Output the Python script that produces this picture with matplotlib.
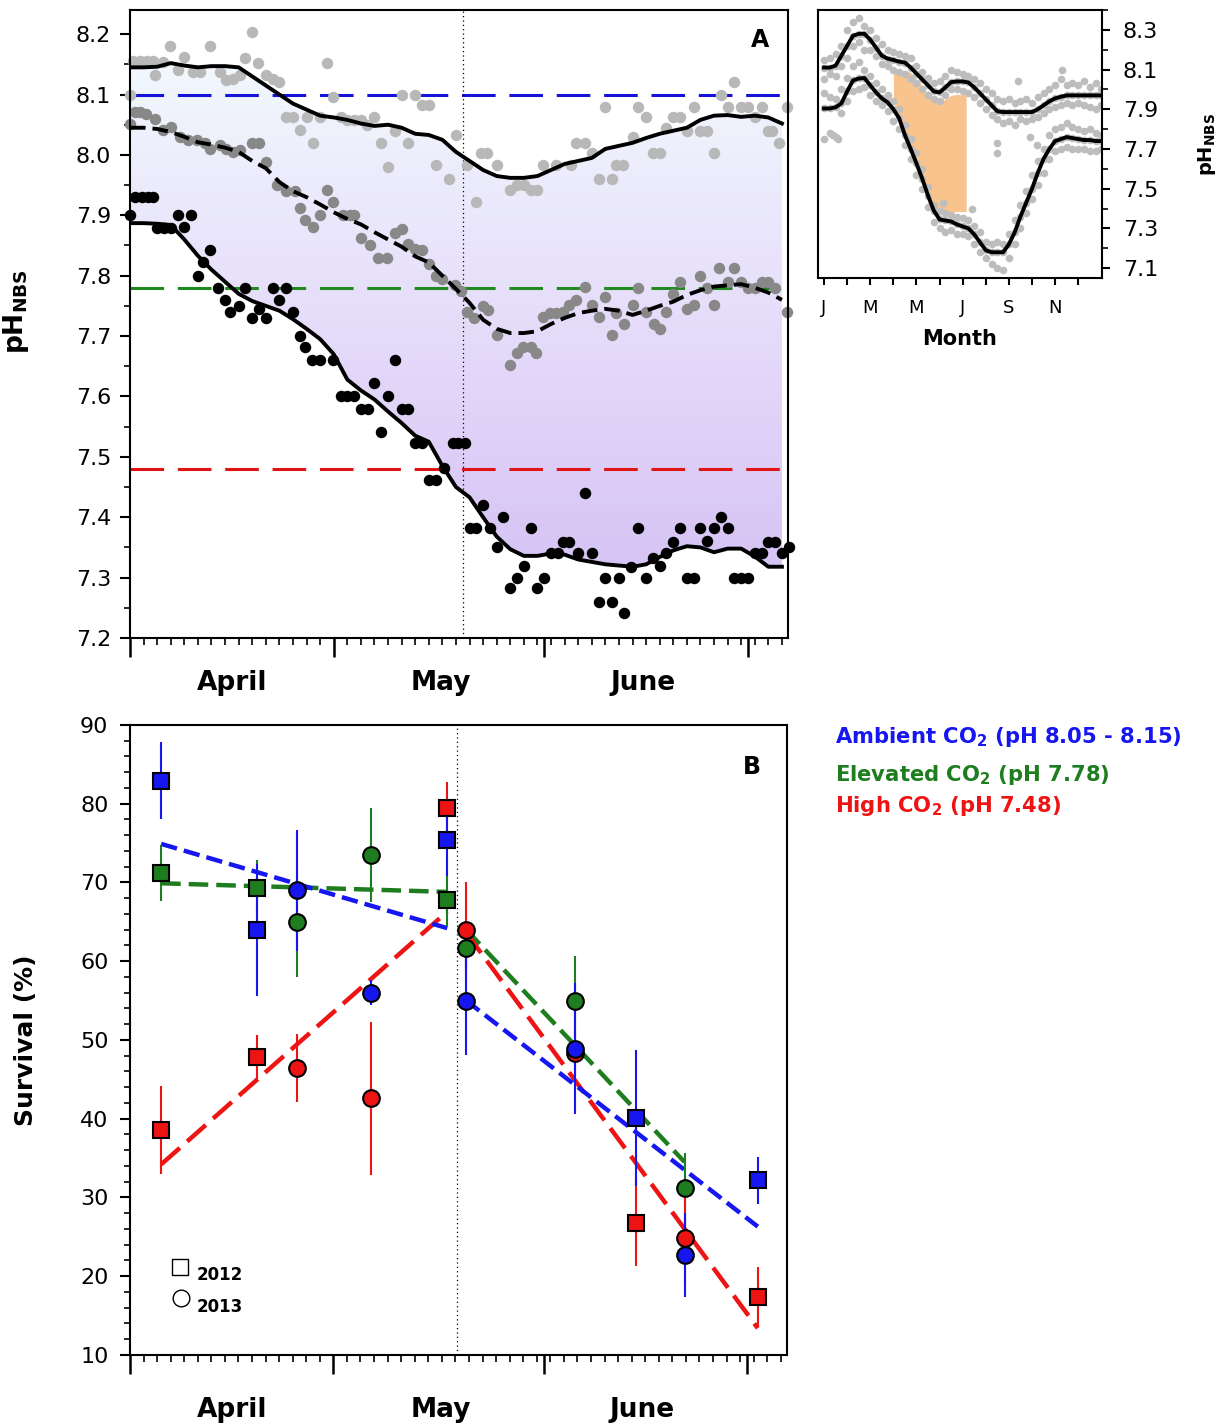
import numpy as np
import matplotlib
matplotlib.use('Agg')
import matplotlib.pyplot as plt
import matplotlib.transforms as mtransforms
from matplotlib.colors import LinearSegmentedColormap
from matplotlib.ticker import MultipleLocator, FixedLocator

plt.rcParams['font.family'] = 'DejaVu Sans'
plt.rcParams['mathtext.fontset'] = 'dejavusans'

# ---------------- panel A : daily pH (day 0 = 1 April) ----------------
line_day = np.arange(0, 97, 2)
amb_line = [8.145, 8.145, 8.146, 8.152, 8.148, 8.145, 8.147, 8.147, 8.145, 8.13,
            8.115, 8.10, 8.085, 8.075, 8.065, 8.062, 8.058, 8.052, 8.048, 8.05,
            8.045, 8.035, 8.033, 8.025, 8.005, 7.99, 7.975, 7.965, 7.962, 7.962,
            7.965, 7.975, 7.985, 7.99, 7.995, 8.01, 8.015, 8.02, 8.028, 8.035,
            8.04, 8.045, 8.058, 8.065, 8.066, 8.063, 8.065, 8.062, 8.052]
elev_line = [8.045, 8.045, 8.043, 8.038, 8.03, 8.021, 8.017, 8.012, 8.005, 7.99,
             7.978, 7.955, 7.94, 7.93, 7.918, 7.905, 7.894, 7.885, 7.872, 7.86,
             7.848, 7.832, 7.822, 7.80, 7.778, 7.755, 7.727, 7.712, 7.705, 7.705,
             7.708, 7.72, 7.73, 7.738, 7.742, 7.745, 7.742, 7.735, 7.742, 7.75,
             7.757, 7.768, 7.776, 7.782, 7.784, 7.786, 7.78, 7.772, 7.76]
high_line = [7.887, 7.887, 7.886, 7.884, 7.86, 7.833, 7.81, 7.79, 7.77, 7.758,
             7.75, 7.742, 7.728, 7.712, 7.695, 7.67, 7.628, 7.61, 7.595, 7.575,
             7.556, 7.535, 7.525, 7.485, 7.45, 7.433, 7.40, 7.368, 7.347, 7.336,
             7.336, 7.34, 7.338, 7.33, 7.326, 7.322, 7.32, 7.318, 7.322, 7.334,
             7.345, 7.352, 7.35, 7.342, 7.348, 7.348, 7.335, 7.318, 7.318]

amb_pt_day = [0, 0.5, 1.5, 2.5, 3.4, 3.7, 4.9, 5.9, 7.1, 7.9, 9.3, 10.3, 11.8, 13.2, 14.2,
              15.2, 16.2, 16.9, 17.9, 18.9, 20.1, 21, 22, 23, 24, 25, 26, 27, 28, 29,
              29.9, 31, 32, 33, 34, 34.9, 36, 37, 38, 39, 40, 41, 42, 43, 44,
              45, 47, 48, 49.7, 51, 51.7, 52.6, 54, 56, 57, 58, 59, 60, 60.8, 62.8,
              65, 65.7, 67, 68, 69, 70, 71, 71.6, 72.6, 74, 74.8, 76, 77, 78, 79,
              80, 81, 82, 83, 84, 85, 86, 87, 88, 89, 90, 91, 92, 93, 94,
              94.6, 95.6, 96.8]
amb_pt = [8.10, 8.155, 8.155, 8.155, 8.155, 8.132, 8.154, 8.18, 8.14, 8.162, 8.137, 8.137, 8.18, 8.137, 8.124,
          8.126, 8.132, 8.16, 8.203, 8.152, 8.132, 8.126, 8.12, 8.063, 8.063, 8.041, 8.063, 8.02, 8.062, 8.152,
          8.096, 8.062, 8.058, 8.058, 8.058, 8.05, 8.062, 8.02, 7.98, 8.04, 8.10, 8.02, 8.10, 8.082, 8.082,
          7.983, 7.96, 8.033, 7.983, 7.922, 8.003, 8.003, 7.983, 7.942, 7.95, 7.95, 7.942, 7.942, 7.983, 7.983,
          7.983, 8.02, 8.02, 8.003, 7.96, 8.08, 7.96, 7.983, 7.983, 8.03, 8.08, 8.063, 8.003, 8.003, 8.045,
          8.063, 8.063, 8.04, 8.08, 8.04, 8.04, 8.003, 8.10, 8.08, 8.12, 8.08, 8.08, 8.062, 8.08, 8.04,
          8.04, 8.02, 8.08]

elev_pt_day = [0, 0.7, 1.5, 2.4, 3.7, 4.9, 6.1, 7.3, 8.6, 9.8, 11, 11.8, 13.2, 14.2, 15.2,
               16.2, 17.9, 19, 20.1, 21.6, 23, 24.3, 25, 25.7, 27, 28, 29, 29.9, 31.3, 32.4,
               33, 34, 35.3, 36.5, 37.8, 39, 40, 41, 42, 43, 44, 45, 46, 47.8, 48.8,
               49.7, 50.7, 52, 52.7, 54, 56, 57, 57.8, 59, 59.8, 60.8, 61.8, 62.8, 63.7, 64.7,
               65.7, 67, 68, 69, 70, 71, 71.6, 72.8, 74, 74.8, 76, 77.2, 78, 79, 80,
               81, 82, 83, 84, 85, 86, 86.8, 88, 89, 90, 91, 92, 93, 94, 95, 96.8]
elev_pt = [8.052, 8.071, 8.071, 8.068, 8.06, 8.041, 8.047, 8.03, 8.025, 8.025, 8.02, 8.01, 8.016, 8.01, 8.005,
           8.008, 8.02, 8.02, 7.988, 7.95, 7.94, 7.94, 7.912, 7.892, 7.88, 7.90, 7.942, 7.922, 7.90, 7.90,
           7.90, 7.862, 7.85, 7.83, 7.83, 7.87, 7.878, 7.852, 7.845, 7.842, 7.82, 7.80, 7.795, 7.785, 7.775,
           7.74, 7.73, 7.75, 7.743, 7.702, 7.652, 7.672, 7.682, 7.682, 7.672, 7.732, 7.738, 7.738, 7.74, 7.752,
           7.76, 7.782, 7.752, 7.732, 7.765, 7.702, 7.738, 7.72, 7.752, 7.78, 7.74, 7.72, 7.712, 7.74, 7.77,
           7.79, 7.745, 7.752, 7.80, 7.78, 7.752, 7.812, 7.79, 7.812, 7.79, 7.78, 7.78, 7.79, 7.79, 7.78, 7.74]

high_pt_day = [0, 0.7, 1.7, 2.6, 3.4, 4, 5, 6, 7, 8, 9, 10, 10.8, 11.8, 13,
               14, 14.7, 16, 17, 18, 19, 20, 21, 22, 23, 24, 25, 25.7, 26.8, 28,
               29.9, 31, 32, 33, 34, 35, 36, 37, 38, 39, 40, 41, 42, 43, 44,
               45, 46.3, 47.5, 48.3, 49.3, 50, 51, 52, 53, 54, 55, 56, 57, 58, 59,
               60, 61, 62, 63, 63.7, 64.7, 66, 67, 68, 69, 70, 71, 72, 72.8, 73.8,
               74.8, 76, 77, 78, 79, 80, 81, 82, 83, 84, 85, 86, 87, 88, 89,
               90, 91, 92, 93, 94, 95, 96, 97]
high_pt = [7.90, 7.93, 7.93, 7.93, 7.93, 7.879, 7.879, 7.879, 7.90, 7.88, 7.90, 7.80, 7.823, 7.842, 7.78,
           7.76, 7.74, 7.75, 7.78, 7.73, 7.745, 7.73, 7.78, 7.76, 7.78, 7.74, 7.70, 7.682, 7.66, 7.66,
           7.66, 7.60, 7.60, 7.60, 7.58, 7.58, 7.622, 7.541, 7.60, 7.66, 7.58, 7.58, 7.523, 7.523, 7.462,
           7.462, 7.482, 7.523, 7.523, 7.523, 7.382, 7.382, 7.42, 7.382, 7.35, 7.40, 7.283, 7.30, 7.32, 7.382,
           7.283, 7.30, 7.34, 7.34, 7.359, 7.359, 7.34, 7.44, 7.34, 7.26, 7.30, 7.26, 7.30, 7.241, 7.318,
           7.382, 7.30, 7.332, 7.32, 7.34, 7.359, 7.382, 7.30, 7.30, 7.382, 7.36, 7.382, 7.40, 7.382, 7.30,
           7.30, 7.30, 7.34, 7.34, 7.359, 7.359, 7.34, 7.35]

target_ph = [8.10, 7.78, 7.48]
target_col = ['#1414d8', '#1f8a1f', '#e01414']

month_starts = [0, 30, 61, 91]
month_mids = [15, 45.8, 75.5]
month_names = ['April', 'May', 'June']

# ---------------- inset : one year of pH ----------------
inset_m = np.arange(0, 12.01, 0.25)
inset_up_line = [8.11, 8.11, 8.12, 8.17, 8.22, 8.27, 8.28, 8.28, 8.25, 8.21, 8.17, 8.155, 8.148,
                 8.14, 8.135, 8.11, 8.08, 8.05, 8.02, 7.99, 7.985, 8.01, 8.037, 8.04, 8.04,
                 8.035, 8.01, 7.98, 7.95, 7.92, 7.89, 7.886, 7.886, 7.886, 7.886, 7.886, 7.886,
                 7.90, 7.92, 7.94, 7.955, 7.963, 7.97, 7.97, 7.97, 7.97, 7.97, 7.97, 7.97]
inset_lo_line = [7.904, 7.904, 7.91, 7.93, 7.99, 8.045, 8.055, 8.057, 8.02, 7.985, 7.955, 7.935, 7.90,
                 7.855, 7.77, 7.70, 7.627, 7.55, 7.465, 7.39, 7.345, 7.34, 7.335, 7.32, 7.31,
                 7.30, 7.27, 7.23, 7.19, 7.18, 7.18, 7.18, 7.22, 7.28, 7.36, 7.43, 7.50,
                 7.58, 7.65, 7.70, 7.74, 7.75, 7.76, 7.755, 7.75, 7.745, 7.745, 7.74, 7.74]
inset_up_hi = [8.15, 8.16, 8.18, 8.22, 8.30, 8.34, 8.36, 8.32, 8.30, 8.26, 8.23, 8.20, 8.19,
               8.18, 8.17, 8.16, 8.12, 8.09, 8.06, 8.03, 8.04, 8.07, 8.10, 8.09, 8.08,
               8.07, 8.05, 8.03, 8.00, 7.98, 7.95, 7.94, 7.95, 7.93, 7.94, 7.95, 7.93,
               7.96, 7.98, 8.00, 8.02, 8.05, 8.02, 8.03, 8.02, 8.04, 8.01, 8.03, 8.00]
inset_up_lo = [8.05, 8.08, 8.07, 8.12, 8.16, 8.22, 8.24, 8.20, 8.20, 8.17, 8.13, 8.12, 8.10,
               8.09, 8.08, 8.05, 8.03, 8.00, 7.97, 7.95, 7.94, 7.97, 8.00, 8.00, 7.99,
               7.98, 7.96, 7.93, 7.90, 7.87, 7.85, 7.83, 7.84, 7.82, 7.85, 7.84, 7.85,
               7.86, 7.88, 7.90, 7.91, 7.92, 7.93, 7.92, 7.93, 7.92, 7.91, 7.90, 7.92]
inset_lo_hi = [7.98, 7.96, 7.95, 8.00, 8.06, 8.12, 8.14, 8.10, 8.07, 8.03, 8.00, 7.97, 7.94,
               7.90, 7.82, 7.75, 7.68, 7.60, 7.51, 7.42, 7.39, 7.38, 7.37, 7.36, 7.35,
               7.34, 7.31, 7.28, 7.23, 7.22, 7.23, 7.22, 7.27, 7.34, 7.42, 7.49, 7.57,
               7.64, 7.70, 7.77, 7.80, 7.81, 7.83, 7.81, 7.80, 7.79, 7.80, 7.78, 7.77]
inset_lo_lo = [7.75, 7.78, 7.76, 7.88, 7.94, 7.99, 8.00, 8.01, 7.97, 7.94, 7.92, 7.89, 7.84,
               7.80, 7.72, 7.65, 7.57, 7.50, 7.41, 7.33, 7.30, 7.28, 7.29, 7.27, 7.27,
               7.26, 7.22, 7.18, 7.15, 7.12, 7.10, 7.09, 7.15, 7.22, 7.30, 7.38, 7.45,
               7.52, 7.58, 7.65, 7.69, 7.70, 7.71, 7.70, 7.70, 7.70, 7.69, 7.69, 7.70]
inset_extra_m = [8.4, 7.5, 7.5, 8.9, 10.3, 0.4, 0.6, 5.15, 6.4, 9.2]
inset_extra_v = [8.04, 7.73, 7.68, 7.76, 8.10, 7.77, 7.75, 7.43, 7.40, 7.72]

orange_m = [3.0, 3.25, 3.5, 3.75, 4.0, 4.25, 4.5, 4.75, 5.0, 5.25, 5.5, 5.75, 6.0, 6.15]
orange_top = [8.107, 8.10, 8.095, 8.085, 8.05, 8.02, 7.975, 7.94, 7.935, 7.95, 7.97, 7.975, 7.975, 7.97]
orange_bot = [7.945, 7.86, 7.78, 7.71, 7.64, 7.56, 7.48, 7.41, 7.38, 7.38, 7.38, 7.385, 7.385, 7.385]
inset_ticks = list(range(12))
inset_labels = ['J', '', 'M', '', 'M', '', 'J', '', 'S', '', 'N', '']

# ---------------- panel B : survival ----------------
amb_day = [4.6, 18.8, 24.7, 35.6, 46.8, 49.6, 65.6, 74.7, 81.8, 92.6]
amb_surv = [82.9, 64.0, 69.0, 56.0, 75.4, 54.9, 48.9, 40.1, 22.7, 32.2]
amb_err = [4.9, 8.4, 7.7, 1.6, 4.6, 6.8, 8.3, 8.6, 5.3, 3.0]
amb_year = [2012, 2012, 2013, 2013, 2012, 2013, 2013, 2012, 2013, 2012]

elev_day = [4.6, 18.8, 24.7, 35.6, 46.8, 49.6, 65.6, 81.8]
elev_surv = [71.2, 69.3, 65.0, 73.5, 67.8, 61.7, 54.9, 31.2]
elev_err = [3.6, 3.6, 7.0, 6.0, 3.3, 2.5, 5.8, 4.4]
elev_year = [2012, 2012, 2013, 2013, 2012, 2013, 2013, 2013]

high_day = [4.6, 18.8, 24.7, 35.6, 46.8, 49.6, 65.6, 74.7, 81.8, 92.6]
high_surv = [38.6, 47.8, 46.4, 42.6, 79.4, 64.0, 48.4, 26.8, 24.9, 17.4]
high_err = [5.6, 2.8, 4.3, 9.7, 3.4, 6.0, 3.0, 5.5, 6.0, 3.8]
high_year = [2012, 2012, 2013, 2013, 2012, 2013, 2013, 2012, 2013, 2012]

fit_amb = [([4.6, 46.8], [74.9, 64.2]), ([49.6, 92.6], [55.0, 26.3])]
fit_elev = [([4.6, 46.8], [69.9, 68.8]), ([49.6, 81.8], [64.0, 34.5])]
fit_high = [([4.6, 46.8], [34.2, 66.3]), ([49.6, 92.6], [63.6, 13.4])]

legend_txt = [r'Ambient CO$_\mathbf{2}$ (pH 8.05 - 8.15)',
              r'Elevated CO$_\mathbf{2}$ (pH 7.78)',
              r'High CO$_\mathbf{2}$ (pH 7.48)']

blue, green, red = '#1616f0', '#1e7d1e', '#ee1414'


def style_month_axis(ax, label_y):
    for s in ax.spines.values():
        s.set_linewidth(1.5)
    ax.xaxis.set_major_locator(FixedLocator(month_starts))
    ax.xaxis.set_minor_locator(MultipleLocator(2))
    ax.set_xticklabels([])
    ax.tick_params(axis='both', which='both', direction='out', top=False, right=False)
    ax.tick_params(axis='x', which='major', length=14, width=1.8)
    ax.tick_params(axis='x', which='minor', length=5, width=1.2)
    ax.tick_params(axis='y', which='major', length=7.5, width=1.5, labelsize=16, pad=6)
    ax.tick_params(axis='y', which='minor', length=4.5, width=1.2)
    tr = mtransforms.blended_transform_factory(ax.transData, ax.transAxes)
    for m, name in zip(month_mids, month_names):
        ax.text(m, label_y, name, transform=tr, ha='center', va='center',
                fontsize=19, fontweight='bold')


fig = plt.figure(figsize=(12.25, 14.26), dpi=100)

# ---- A ----
axA = fig.add_axes([0.1061, 0.5526, 0.5372, 0.4404])
poly = axA.fill_between(line_day, amb_line, high_line, facecolor='none', edgecolor='none')
cmap = LinearSegmentedColormap.from_list('bg', ['#d6c3f5', '#e6ddfa', '#f2f9fe'])
grad = np.linspace(0, 1, 256).reshape(-1, 1)
im = axA.imshow(grad, extent=[0, 97, 7.31, 8.16], origin='lower', aspect='auto',
                cmap=cmap, zorder=0)
im.set_clip_path(poly.get_paths()[0], transform=axA.transData)

for v, c in zip(target_ph, target_col):
    axA.axhline(v, color=c, lw=2.2, dashes=(11, 4.5), zorder=1)

axA.scatter(amb_pt_day, amb_pt, s=68, color='#b8b8b8', lw=0, zorder=2, clip_on=False)
axA.scatter(elev_pt_day, elev_pt, s=68, color='#888888', lw=0, zorder=2, clip_on=False)
axA.scatter(high_pt_day, high_pt, s=68, color='black', lw=0, zorder=2, clip_on=False)
axA.plot(line_day, amb_line, color='black', lw=2.8, zorder=3)
axA.plot(line_day, elev_line, color='black', lw=2.8, dashes=(4, 1.8), zorder=3)
axA.plot(line_day, high_line, color='black', lw=2.8, zorder=3)
axA.axvline(49.0, color='black', lw=0.9, ls=(0, (1, 2.5)), zorder=1)

axA.set_xlim(0, 96.9)
axA.set_ylim(7.2, 8.24)
axA.yaxis.set_major_locator(MultipleLocator(0.1))
axA.yaxis.set_minor_locator(MultipleLocator(0.05))
axA.yaxis.set_major_formatter(matplotlib.ticker.FormatStrFormatter('%.1f'))
style_month_axis(axA, -0.072)
axA.set_ylabel(r'pH$_\mathbf{NBS}$', fontsize=19, fontweight='bold')
axA.yaxis.set_label_coords(-0.150, 0.52)
axA.text(0.957, 0.952, 'A', transform=axA.transAxes, ha='center', va='center',
         fontsize=17, fontweight='bold')

# ---- inset ----
axI = fig.add_axes([0.6678, 0.805, 0.2318, 0.188])
axI.fill_between(orange_m, orange_top, orange_bot, color='#f8c38c', lw=0, zorder=1)
for rows in (inset_up_hi, inset_up_lo, inset_lo_hi, inset_lo_lo, inset_up_line, inset_lo_line):
    axI.scatter(inset_m, rows, s=30, color='#bdbdbd', lw=0, zorder=2)
axI.scatter(inset_extra_m, inset_extra_v, s=30, color='#bdbdbd', lw=0, zorder=2)
axI.plot(inset_m, inset_up_line, color='black', lw=2.8, zorder=3)
axI.plot(inset_m, inset_lo_line, color='black', lw=2.8, zorder=3)
axI.set_xlim(-0.26, 12.03)
axI.set_ylim(7.05, 8.40)
axI.set_xticks(inset_ticks)
axI.set_xticklabels(inset_labels, fontsize=13)
axI.yaxis.tick_right()
axI.yaxis.set_label_position('right')
axI.set_yticks([7.1, 7.3, 7.5, 7.7, 7.9, 8.1, 8.3])
axI.yaxis.set_minor_locator(MultipleLocator(0.1))
axI.tick_params(axis='y', which='major', length=6, width=1.5, labelsize=16, pad=9)
axI.tick_params(axis='y', which='minor', length=4, width=1.2)
axI.tick_params(axis='x', which='major', length=5, width=1.5, pad=10)
for s in axI.spines.values():
    s.set_linewidth(1.5)
axI.set_ylabel(r'pH$_\mathbf{NBS}$', fontsize=14, fontweight='bold')
axI.yaxis.set_label_coords(1.33, 0.5)
axI.set_xlabel('Month', fontsize=15, fontweight='bold')
axI.xaxis.set_label_coords(0.5, -0.19)

# ---- B ----
axB = fig.add_axes([0.1061, 0.0498, 0.5363, 0.4418])
groups = [(elev_day, elev_surv, elev_err, elev_year, green, fit_elev, (4.4, 1.8)),
          (high_day, high_surv, high_err, high_year, red, fit_high, (5.6, 2.2)),
          (amb_day, amb_surv, amb_err, amb_year, blue, fit_amb, (3.7, 1.6))]
for days, surv, err, year, col, fits, dsh in groups:
    for fx, fy in fits:
        axB.plot(fx, fy, color=col, lw=3.2, dashes=dsh, zorder=2)
for days, surv, err, year, col, fits, dsh in groups:
    axB.errorbar(days, surv, yerr=err, fmt='none', ecolor=col, elinewidth=1.5,
                 capsize=0, zorder=3)
    days = np.array(days)
    surv = np.array(surv)
    yr = np.array(year)
    axB.plot(days[yr == 2012], surv[yr == 2012], 's', ms=11, mfc=col, mec='black',
             mew=1.5, ls='none', zorder=4)
    axB.plot(days[yr == 2013], surv[yr == 2013], 'o', ms=12, mfc=col, mec='black',
             mew=1.5, ls='none', zorder=4)
axB.axvline(48.3, color='black', lw=0.9, ls=(0, (1, 2.5)), zorder=1)

axB.set_xlim(0, 96.9)
axB.set_ylim(10, 90)
axB.yaxis.set_major_locator(MultipleLocator(10))
axB.yaxis.set_minor_locator(MultipleLocator(2))
style_month_axis(axB, -0.087)
axB.tick_params(axis='y', which='major', pad=8)
axB.set_ylabel('Survival (%)', fontsize=18, fontweight='bold')
axB.yaxis.set_label_coords(-0.140, 0.5)
axB.text(0.946, 0.933, 'B', transform=axB.transAxes, ha='center', va='center',
         fontsize=17, fontweight='bold')

axB.plot([0.076], [0.14], 's', ms=11.5, mfc='white', mec='black', mew=1.0,
         transform=axB.transAxes, clip_on=False)
axB.plot([0.078], [0.09], 'o', ms=12, mfc='white', mec='black', mew=1.0,
         transform=axB.transAxes, clip_on=False)
axB.text(0.101, 0.127, '2012', transform=axB.transAxes, fontsize=12, fontweight='bold',
         va='center')
axB.text(0.101, 0.076, '2013', transform=axB.transAxes, fontsize=12, fontweight='bold',
         va='center')

for t, c, y in zip(legend_txt, [blue, green, red], [0.479, 0.4523, 0.4306]):
    fig.text(0.6816, y, t, color=c, fontsize=15.2, fontweight='bold', va='baseline')

fig.savefig('out.png', dpi=100)
